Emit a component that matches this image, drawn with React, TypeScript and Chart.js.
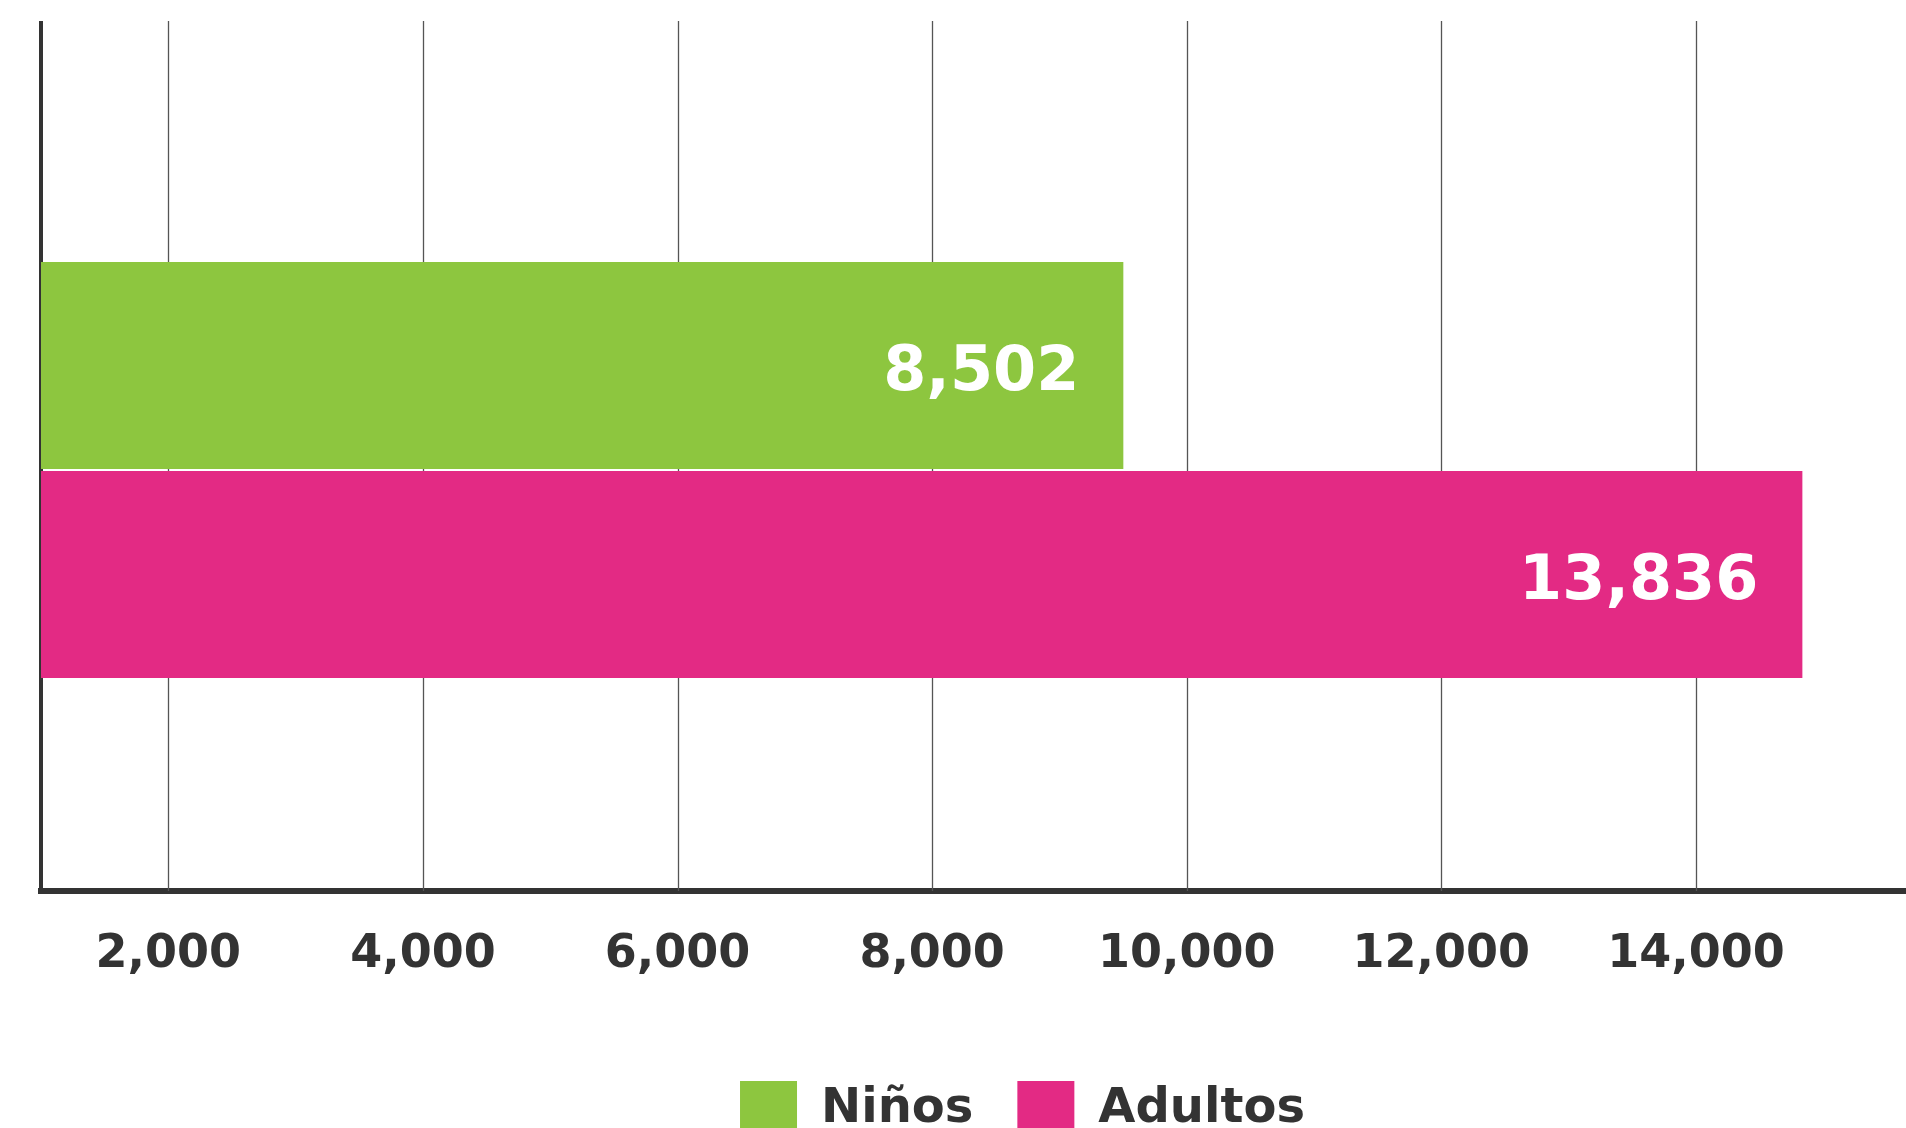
import React, { useEffect, useRef } from "react";
import { Chart, registerables } from "chart.js";

Chart.register(...registerables);

const CATEGORIES = [""];
const SERIES_NAMES = ["Niños", "Adultos"];
const NINOS = [8502];
const ADULTOS = [13836];
const SERIES_COLORS = ["#8DC63F", "#E32A84"];
const TICK_VALUES = [2000, 4000, 6000, 8000, 10000, 12000, 14000];
const AXIS_START = 1000;
const AXIS_END = 15650;

const FONT = "'DejaVu Sans', 'Open Sans', sans-serif";
const TEXT_COLOR = "#333333";
const GRID_COLOR = "#555555";
const CANVAS_W = 1906;
const CANVAS_H = 1148;
const GRID_EXTEND = 28;
const LEGEND_SHIFT = 49;

const fmt = (v: number) => v.toLocaleString("en-US");

const gridPlugin = {
  id: "gridLines",
  beforeDatasetsDraw(chart: any) {
    const { ctx, chartArea, scales } = chart;
    const xs = scales.x;
    ctx.save();
    ctx.strokeStyle = GRID_COLOR;
    ctx.lineWidth = 1.3;
    xs.ticks.forEach((t: any) => {
      const px = Math.round(xs.getPixelForValue(t.value)) + 0.5;
      ctx.beginPath();
      ctx.moveTo(px, chartArea.top - GRID_EXTEND);
      ctx.lineTo(px, chartArea.bottom);
      ctx.stroke();
    });
    ctx.strokeStyle = TEXT_COLOR;
    ctx.lineWidth = 4;
    ctx.beginPath();
    ctx.moveTo(chartArea.left, chartArea.top - GRID_EXTEND);
    ctx.lineTo(chartArea.left, chartArea.top + 1);
    ctx.stroke();
    ctx.restore();
  },
};

const legendShiftPlugin = {
  id: "legendShift",
  afterLayout(chart: any) {
    if (chart.legend) {
      chart.legend.left += LEGEND_SHIFT;
      chart.legend.right += LEGEND_SHIFT;
    }
  },
};

const valueLabelPlugin = {
  id: "valueLabels",
  afterDatasetsDraw(chart: any) {
    const { ctx } = chart;
    const sources = [NINOS, ADULTOS];
    ctx.save();
    ctx.fillStyle = "#ffffff";
    ctx.font = `bold 62px ${FONT}`;
    ctx.textAlign = "right";
    ctx.textBaseline = "middle";
    chart.data.datasets.forEach((ds: any, di: number) => {
      const meta = chart.getDatasetMeta(di);
      meta.data.forEach((el: any, i: number) => {
        ctx.fillText(fmt(sources[di][i]), el.x - 44, el.y + 8);
      });
    });
    ctx.restore();
  },
};

export default function App() {
  const ref = useRef<HTMLCanvasElement | null>(null);

  useEffect(() => {
    if (!ref.current) return;
    const chart = new Chart(ref.current, {
      type: "bar",
      data: {
        labels: CATEGORIES,
        datasets: [
          {
            label: SERIES_NAMES[0],
            data: NINOS.map((v) => [AXIS_START, AXIS_START + v]) as any,
            backgroundColor: SERIES_COLORS[0],
            borderWidth: 0,
          },
          {
            label: SERIES_NAMES[1],
            data: ADULTOS.map((v) => [AXIS_START, AXIS_START + v]) as any,
            backgroundColor: SERIES_COLORS[1],
            borderWidth: 0,
          },
        ],
      },
      options: {
        indexAxis: "y",
        responsive: false,
        animation: false,
        categoryPercentage: 0.4964,
        barPercentage: 0.99,
        layout: { padding: { top: 49, left: 41, right: 0, bottom: 0 } },
        scales: {
          x: {
            type: "linear",
            min: AXIS_START,
            max: AXIS_END,
            afterBuildTicks: (s: any) => {
              s.ticks = TICK_VALUES.map((v) => ({ value: v }));
            },
            afterFit: (s: any) => {
              s.height = 146;
            },
            grid: {
              display: false,
              drawTicks: false,
              tickLength: 0,
            },
            border: { display: true, color: TEXT_COLOR, width: 6 },
            ticks: {
              color: TEXT_COLOR,
              padding: 36,
              font: { family: FONT, size: 46, weight: "bold" },
              maxRotation: 0,
              autoSkip: false,
              callback: (v: any) => fmt(Number(v)),
            },
          },
          y: {
            type: "category",
            z: 1,
            grid: { display: false, drawTicks: false, tickLength: 0 },
            border: { display: true, color: TEXT_COLOR, width: 4 },
            ticks: { display: false },
          },
        },
        plugins: {
          legend: {
            position: "bottom",
            labels: {
              boxWidth: 57,
              boxHeight: 57,
              padding: 44,
              color: TEXT_COLOR,
              font: { family: FONT, size: 48, weight: "bold" },
            },
          },
          tooltip: { enabled: false },
        },
      },
      plugins: [gridPlugin, legendShiftPlugin, valueLabelPlugin],
    });
    return () => chart.destroy();
  }, []);

  return (
    <div
      style={{
        position: "fixed",
        left: 0,
        top: 0,
        width: CANVAS_W,
        height: 1128,
        overflow: "hidden",
        background: "#ffffff",
      }}
    >
      <canvas ref={ref} width={CANVAS_W} height={CANVAS_H} />
    </div>
  );
}
